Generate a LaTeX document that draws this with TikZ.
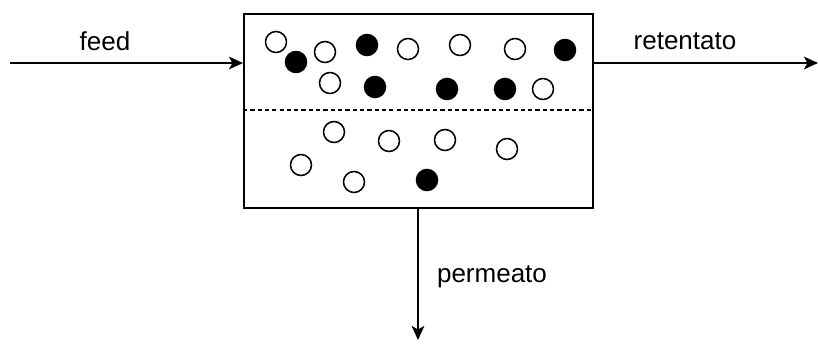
\documentclass[tikz,border=0pt]{standalone}
\usepackage{fontspec}
\setmainfont{Liberation Sans}
\usepackage{tikz}
\usetikzlibrary{arrows.meta,positioning,calc}
\tikzstyle{membrane}=[draw,line width=1.1pt,minimum width=349*0.025cm,minimum height=194*0.025cm,inner sep=0pt]
\tikzstyle{free}=[draw,fill=white,circle,line width=1.1pt,minimum size=21*0.025cm,inner sep=0pt]
\tikzstyle{held}=[draw,fill=black,circle,line width=1.1pt,minimum size=21*0.025cm,inner sep=0pt]
\tikzstyle{flow}=[line width=1pt,-{Stealth[length=10pt,width=9pt,inset=2.5pt]}]
\tikzstyle{label}=[font=\fontsize{18.5}{22}\selectfont,inner sep=0pt]

\begin{document}
\begin{tikzpicture}[x=0.025cm,y=-0.025cm]
\useasboundingbox (0,0) rectangle (818,345);
% module
\node [membrane,anchor=north west] (box) at (243,13) {};
\draw [line width=1pt,dash pattern=on 3pt off 2.2pt] (box.west |- 0,110) coordinate (mw) -- (box.east |- 0,110) coordinate (me);
% retained side
\node [free] (f1) at (276,42) {};
\node [free] (f2) at (325,52) {};
\node [free] (f3) at (408,49) {};
\node [free] (f4) at (460,45) {};
\node [free] (f5) at (515,49) {};
\node [free] (f6) at (330,83) {};
\node [free] (f7) at (543,89) {};
\node [held] (h1) at (296,62) {};
\node [held] (h2) at (367,45) {};
\node [held] (h3) at (565,50) {};
\node [held] (h4) at (375,87) {};
\node [held] (h5) at (447,89) {};
\node [held] (h6) at (505,89) {};
% permeate side
\node [free] (f8) at (334,132) {};
\node [free] (f9) at (389,141) {};
\node [free] (f10) at (445,140) {};
\node [free] (f11) at (507,149) {};
\node [free] (f12) at (301,165) {};
\node [free] (f13) at (354,182) {};
\node [held] (h7) at (427,180) {};
% streams
\coordinate (feedin) at (10,63);
\coordinate (retout) at (818,63);
\coordinate (permout) at (418,340);
\draw [flow] (feedin) -- (feedin -| box.west);
\draw [flow] (retout -| box.east) -- (retout);
\draw [flow] (box.south -| permout) -- (permout);
\node [label] (feed) at (105,41) {feed};
\node [label] (ret) at (685,41) {retentato};
\node [label] (perm) at (492,277) {permeato};
\end{tikzpicture}
\end{document}
